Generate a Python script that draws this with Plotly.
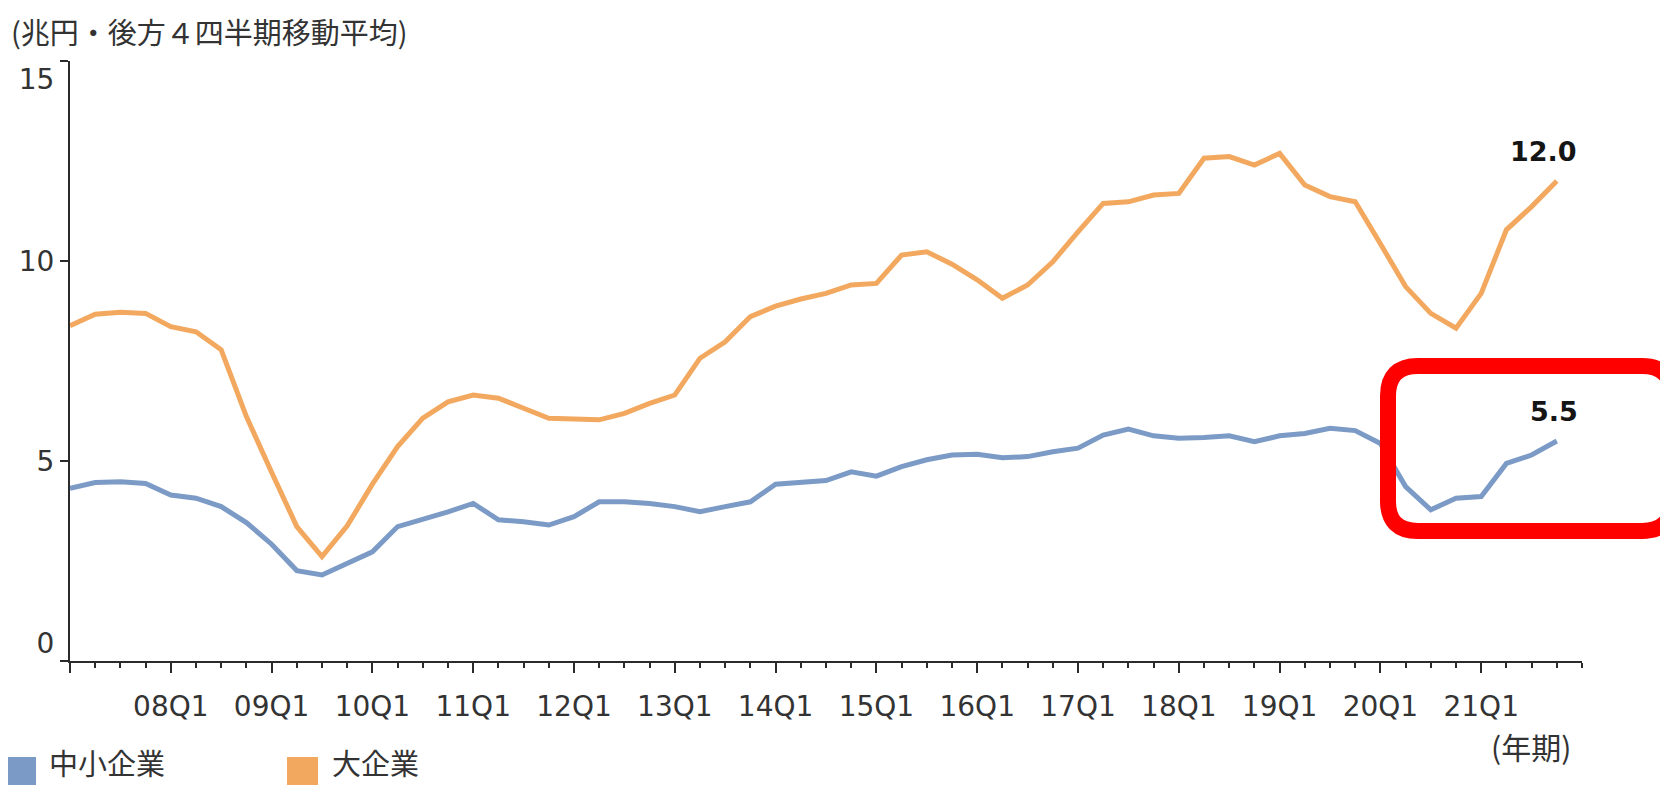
import plotly.graph_objects as go

# ---- data (兆円・後方4四半期移動平均) ----
quarters = [
    "07Q1", "07Q2", "07Q3", "07Q4", "08Q1", "08Q2", "08Q3", "08Q4",
    "09Q1", "09Q2", "09Q3", "09Q4", "10Q1", "10Q2", "10Q3", "10Q4",
    "11Q1", "11Q2", "11Q3", "11Q4", "12Q1", "12Q2", "12Q3", "12Q4",
    "13Q1", "13Q2", "13Q3", "13Q4", "14Q1", "14Q2", "14Q3", "14Q4",
    "15Q1", "15Q2", "15Q3", "15Q4", "16Q1", "16Q2", "16Q3", "16Q4",
    "17Q1", "17Q2", "17Q3", "17Q4", "18Q1", "18Q2", "18Q3", "18Q4",
    "19Q1", "19Q2", "19Q3", "19Q4", "20Q1", "20Q2", "20Q3", "20Q4",
    "21Q1", "21Q2", "21Q3", "21Q4",
]

large_firms = [  # 大企業
    8.38, 8.67, 8.72, 8.69, 8.36, 8.23, 7.78, 6.11,
    4.72, 3.36, 2.61, 3.38, 4.42, 5.36, 6.07, 6.48,
    6.65, 6.57, 6.32, 6.07, 6.05, 6.03, 6.19, 6.44,
    6.65, 7.57, 7.98, 8.61, 8.87, 9.05, 9.19, 9.40,
    9.44, 10.15, 10.23, 9.92, 9.53, 9.07, 9.40, 9.98,
    10.73, 11.44, 11.48, 11.65, 11.69, 12.57, 12.61, 12.40,
    12.69, 11.90, 11.61, 11.48, 10.43, 9.36, 8.69, 8.32,
    9.19, 10.78, 11.36, 12.0,
]

smes = [  # 中小企業
    4.32, 4.46, 4.48, 4.44, 4.15, 4.07, 3.86, 3.46,
    2.92, 2.26, 2.15, 2.44, 2.73, 3.36, 3.53, 3.73,
    3.94, 3.53, 3.48, 3.40, 3.61, 3.98, 3.98, 3.94,
    3.86, 3.73, 3.86, 3.98, 4.42, 4.46, 4.51, 4.73,
    4.62, 4.86, 5.03, 5.15, 5.17, 5.08, 5.11, 5.23,
    5.32, 5.65, 5.80, 5.63, 5.57, 5.59, 5.63, 5.48,
    5.63, 5.69, 5.82, 5.76, 5.44, 4.36, 3.78, 4.07,
    4.11, 4.94, 5.15, 5.5,
]

major_tick_quarters = ["07Q1", "08Q1", "09Q1", "10Q1", "11Q1", "12Q1", "13Q1", "14Q1",
                       "15Q1", "16Q1", "17Q1", "18Q1", "19Q1", "20Q1", "21Q1"]
major_tick_labels = ["", "08Q1", "09Q1", "10Q1", "11Q1", "12Q1", "13Q1", "14Q1",
                     "15Q1", "16Q1", "17Q1", "18Q1", "19Q1", "20Q1", "21Q1"]
y_ticks = [0, 5, 10, 15]
y_tick_labels = ["0<br> ", "5", "10", "<br>15"]

series_names = ["中小企業", "大企業"]
title_text = "(兆円・後方４四半期移動平均)"
xaxis_unit = "(年期)"

# ---- styling ----
BLUE = "#7B9BC6"
ORANGE = "#F3A85F"
AXIS = "#2b2b2b"
TXT = "#333333"
NUM_FONT = "DejaVu Sans"
JP_FONT = "Noto Sans CJK JP"

OFF = 8                      # page body margin of the html page
W, H = 1668 - OFF, 785 - OFF
L, T = 70 - OFF, 61 - OFF    # plot area top-left in figure coords
PW, PH = 1512, 600
R, B = W - L - PW, H - T - PH


def pxx(v):  # absolute window pixel -> paper x
    return (v - OFF - L) / PW


def pxy(v):  # absolute window pixel -> paper y
    return (T + PH - (v - OFF)) / PH


x = list(range(len(quarters)))
tickvals = [quarters.index(q) for q in major_tick_quarters]

fig = go.Figure()
fig.add_trace(go.Scatter(x=x, y=smes, mode="lines", name=series_names[0],
                         line=dict(color=BLUE, width=5), showlegend=False))
fig.add_trace(go.Scatter(x=x, y=large_firms, mode="lines", name=series_names[1],
                         line=dict(color=ORANGE, width=5), showlegend=False))

# end-value labels
last = len(quarters) - 1
fig.add_annotation(x=last, y=large_firms[-1], text=f"<b>{large_firms[-1]:.1f}</b>",
                   showarrow=False, yshift=30, xshift=-13,
                   font=dict(family=NUM_FONT, size=27, color="#151515"))
fig.add_annotation(x=last, y=smes[-1], text=f"<b>{smes[-1]:.1f}</b>",
                   showarrow=False, yshift=30, xshift=-3,
                   font=dict(family=NUM_FONT, size=27, color="#151515"))

# title / unit
fig.add_annotation(xref="paper", yref="paper", x=pxx(10), y=pxy(9),
                   xanchor="left", yanchor="top", text=title_text, showarrow=False,
                   borderpad=0, font=dict(family=JP_FONT, size=29, color=TXT))
fig.add_annotation(xref="paper", yref="paper", x=pxx(1573), y=pxy(746),
                   xanchor="right", yanchor="middle", text=xaxis_unit, showarrow=False,
                   font=dict(family=JP_FONT, size=30, color=TXT))

# legend (manual, bottom-left)
legend_items = [(series_names[0], BLUE, 5, 48), (series_names[1], ORANGE, 287, 331)]
for name, col, sx, tx in legend_items:
    fig.add_shape(type="rect", xref="paper", yref="paper",
                  x0=pxx(sx), x1=pxx(sx + 31), y0=pxy(757), y1=pxy(800),
                  line=dict(width=0), fillcolor=col)
    fig.add_annotation(xref="paper", yref="paper", x=pxx(tx), y=pxy(784),
                       xanchor="left", yanchor="bottom", text=name, showarrow=False,
                       borderpad=0, font=dict(family=JP_FONT, size=29, color=TXT))

# red rounded highlight box
bx0, bx1, by0, by1, rr = 1388, 1672, 366, 531, 30
pts = [
    ("M", (bx0 + rr, by0)), ("L", (bx1 - rr, by0)), ("Q", (bx1, by0), (bx1, by0 + rr)),
    ("L", (bx1, by1 - rr)), ("Q", (bx1, by1), (bx1 - rr, by1)),
    ("L", (bx0 + rr, by1)), ("Q", (bx0, by1), (bx0, by1 - rr)),
    ("L", (bx0, by0 + rr)), ("Q", (bx0, by0), (bx0 + rr, by0)),
]
path = ""
for seg in pts:
    cmd = seg[0]
    coords = " ".join(f"{pxx(p[0]):.5f},{pxy(p[1]):.5f}" for p in seg[1:])
    path += f"{cmd} {coords} "
path += "Z"
fig.add_shape(type="path", xref="paper", yref="paper", path=path,
              line=dict(color="#FF0000", width=16), fillcolor="rgba(0,0,0,0)")

fig.update_layout(
    width=W, height=H,
    margin=dict(l=L, r=R, t=T, b=B, autoexpand=False),
    paper_bgcolor="white", plot_bgcolor="white",
    xaxis=dict(
        range=[0, 60], showgrid=False, zeroline=False,
        showline=True, linecolor=AXIS, linewidth=2,
        ticks="outside", ticklen=10, tickwidth=2, tickcolor=AXIS,
        tickvals=tickvals, ticktext=major_tick_labels,
        tickfont=dict(family=NUM_FONT, size=28, color=TXT),
        ticklabelstandoff=9,
        minor=dict(dtick=1, tick0=0, ticks="outside", ticklen=5, tickwidth=1.5,
                   tickcolor=AXIS, showgrid=False),
    ),
    yaxis=dict(
        range=[0, 15], showgrid=False, zeroline=False,
        showline=True, linecolor=AXIS, linewidth=2,
        ticks="outside", ticklen=8, tickwidth=2, tickcolor=AXIS,
        tickvals=y_ticks, ticktext=y_tick_labels,
        tickfont=dict(family=NUM_FONT, size=28, color=TXT),
    ),
)

fig.write_html("out.html")
